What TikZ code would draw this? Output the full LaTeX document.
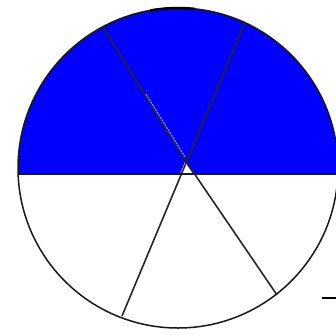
\documentclass[tikz,border=0pt]{standalone}
\begin{document}
\begin{tikzpicture}[x=1pt,y=-1pt,
  outline/.style={draw=black!90,line width=1.5pt},
  spoke/.style={draw=black!85,line width=1.6pt},
  streak/.style={draw=white!55!blue,line width=1.1pt,dash pattern=on 2pt off 1pt}]
\useasboundingbox (0,0) rectangle (336,334);
\clip (0,0) rectangle (336,334);
\fill[white] (0,0) rectangle (336,334);
\coordinate (C) at (178,168);
% blue upper part
\begin{scope}
  \clip (C) circle[radius=160pt];
  \fill[blue] (0,0) rectangle (340,174);
\end{scope}
% small white triangle at the crossing
\coordinate (T1) at (185,162);
\coordinate (T2) at (180,174);
\coordinate (T3) at (193,174);
\fill[white] (T1) -- (T2) -- (T3) -- cycle;
% circle outline
\draw[outline] (C) circle[radius=160pt];
\draw[black,line width=2.4pt] ([shift={(100:160pt)}]C) arc[start angle=100,end angle=84,radius=160pt];
% horizontal chord
\coordinate (H1) at (18.1,174);
\coordinate (H2) at (337.9,174);
\draw[outline] (H1) -- (H2);
% spokes
\coordinate (A1) at (103,27);
\coordinate (AM) at (185,160);
\coordinate (A2) at (277,295);
\coordinate (B1) at (245,22);
\coordinate (B2) at (122,316);
\draw[spoke] (A1) -- (AM) -- (A2);
\draw[spoke] (B1) -- (B2);
% light streak along spoke
\coordinate (S1) at (146,94);
\coordinate (S2) at (185,157);
\draw[streak] (S1) -- (S2);
% short dash at lower right
\coordinate (D1) at (322,298);
\coordinate (D2) at (336,298);
\draw[black,line width=2pt] (D1) -- (D2);
\end{tikzpicture}
\end{document}
